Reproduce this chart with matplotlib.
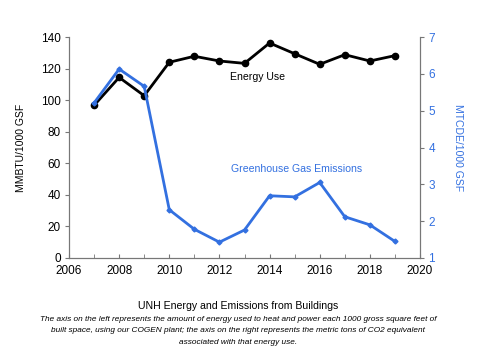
import matplotlib
matplotlib.use("Agg")
import matplotlib.pyplot as plt
from matplotlib.ticker import MultipleLocator

years = [2007, 2008, 2009, 2010, 2011, 2012, 2013, 2014, 2015, 2016, 2017, 2018, 2019]
energy_use = [96.7, 114.4, 102.8, 124.0, 127.8, 124.8, 123.3, 136.2, 129.4, 122.7, 128.8, 124.8, 128.2]
ghg_emissions = [5.21, 6.13, 5.66, 2.31, 1.78, 1.43, 1.76, 2.69, 2.66, 3.05, 2.12, 1.90, 1.45]

left_label = "MMBTU/1000 GSF"
right_label = "MTCDE/1000 GSF"
title = "UNH Energy and Emissions from Buildings"
caption = ("The axis on the left represents the amount of energy used to heat and power each 1000 gross square feet of\n"
           "built space, using our COGEN plant; the axis on the right represents the metric tons of CO2 equivalent\n"
           "associated with that energy use.")

blue = "#3370e0"
gray = "#777777"

plt.rcParams['font.family'] = ['Liberation Sans', 'DejaVu Sans']

fig = plt.figure(figsize=(4.8, 3.47), dpi=100)
ax = fig.add_axes([69/480, 1 - 258/347, 351/480, 221/347])
ax2 = ax.twinx()

ax.plot(years, energy_use, color="black", lw=2, marker="o", ms=4.5, zorder=3)
ax2.plot(years, ghg_emissions, color=blue, lw=2, marker="D", ms=2.5, zorder=2)

ax.set_xlim(2006, 2020)
ax.set_ylim(0, 140)
ax2.set_ylim(1, 7)
ax.xaxis.set_major_locator(MultipleLocator(2))
ax.xaxis.set_minor_locator(MultipleLocator(1))
ax.yaxis.set_major_locator(MultipleLocator(20))
ax2.yaxis.set_major_locator(MultipleLocator(1))

for a in (ax, ax2):
    a.spines['top'].set_visible(False)
    for s in ('left', 'right', 'bottom'):
        a.spines[s].set_color(gray)
        a.spines[s].set_linewidth(0.8)

ax.tick_params(axis='x', which='both', direction='in', length=3, color=gray, labelsize=8.5, pad=5)
ax.tick_params(axis='y', direction='out', length=3, color=gray, labelsize=8.5, pad=3)
ax2.tick_params(axis='y', direction='out', length=3, color=gray, labelsize=8.5, labelcolor=blue, pad=3)

ax.set_ylabel(left_label, fontsize=7.5, labelpad=11)
ax2.set_ylabel(right_label, fontsize=7.5, color=blue, rotation=-90, labelpad=20)

ax.text(2013.52, 114.7, "Energy Use", fontsize=7.6, ha="center", va="center")
ax2.text(2015.06, 3.42, "Greenhouse Gas Emissions", fontsize=7.6, ha="center", va="center", color=blue)

fig.text(238/480, 1 - 306/347, title, ha="center", va="center", fontsize=7.6)
fig.text(238/480, 1 - 331/347, caption, ha="center", va="center", fontsize=5.95,
         style="italic", linespacing=1.85)

fig.savefig("out.png", dpi=100)
